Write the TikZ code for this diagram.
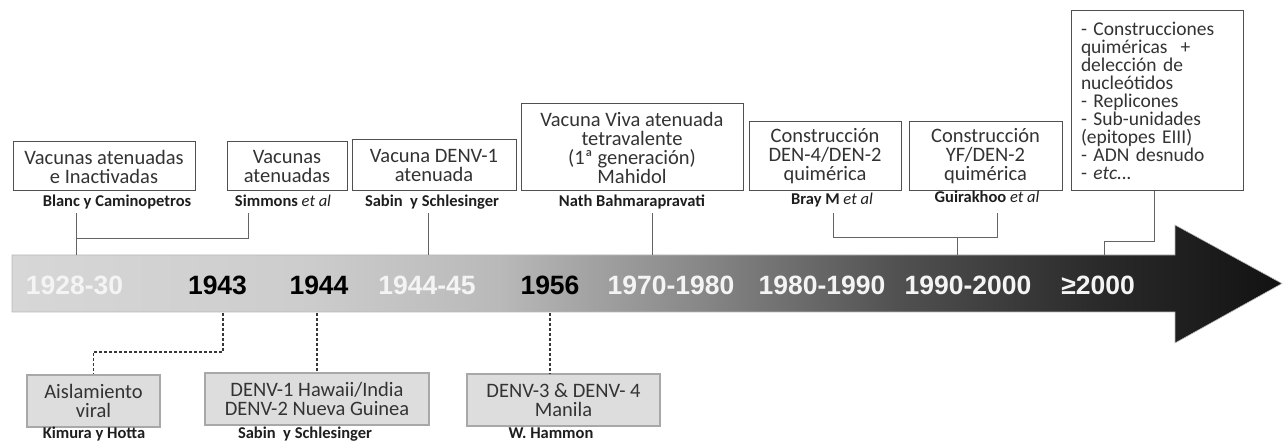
\documentclass[tikz,border=0pt]{standalone}
\usepackage{fontspec}
\setmainfont{Carlito}
\newfontfamily\yearfamily{Liberation Sans}
\definecolor{boxtext}{HTML}{333333}
\definecolor{lbltext}{HTML}{1E1E1E}
\definecolor{yrwhite}{HTML}{F4F4F4}
\definecolor{ga}{RGB}{215,215,215}
\definecolor{gb}{RGB}{205,205,205}
\definecolor{gc}{RGB}{185,185,185}
\definecolor{gd}{RGB}{135,135,135}
\definecolor{ge}{RGB}{80,80,80}
\definecolor{gf}{RGB}{42,42,42}
\definecolor{gg}{RGB}{18,18,18}
\pgfdeclarehorizontalshading{bargrad}{100bp}{color(0bp)=(ga); color(25bp)=(ga); color(36.3bp)=(gb); color(44.2bp)=(gc); color(52.1bp)=(gd); color(60bp)=(ge); color(67.8bp)=(gf); color(75bp)=(gg); color(100bp)=(gg)}
\newcommand\bxfnt{\fontsize{20.5}{19}\selectfont}
\newcommand\lbfnt{\fontsize{16.5}{18}\selectfont\bfseries}
\newcommand\yrfnt{\yearfamily\fontsize{26.5}{28}\selectfont\bfseries}
\begin{document}
\begin{tikzpicture}[x=1pt,y=-1pt,
  topbox/.style={draw={rgb,255:red,80;green,80;blue,80}, line width=1pt, fill=white, text=boxtext, align=center, inner sep=0pt, font=\bxfnt},
  botbox/.style={draw={rgb,255:red,168;green,168;blue,168}, line width=1.6pt, fill={rgb,255:red,221;green,221;blue,221}, text=boxtext, align=center, inner sep=0pt, font=\bxfnt},
  lbl/.style={anchor=base, font=\lbfnt, text=lbltext, inner sep=0pt},
  yr/.style={anchor=base, font=\yrfnt, inner sep=0pt},
  conn/.style={draw={rgb,255:red,100;green,100;blue,100}, line width=0.9pt},
  dconn/.style={draw={rgb,255:red,55;green,55;blue,55}, line width=1.2pt, dash pattern=on 3pt off 2pt}]
\useasboundingbox (0,0) rectangle (1283,443);
% arrow
\shade[shading=bargrad, draw={rgb,255:red,185;green,185;blue,185}, line width=0.6pt]
  (12,255) -- (1175,255) -- (1175,225) -- (1282,283.5) -- (1175,343) -- (1175,312) -- (12,312) -- cycle;
% years
\node[yr, text=yrwhite] (y1) at (74.5,295) {1928-30};
\node[yr, text=black] (y2) at (217.5,295) {1943};
\node[yr, text=black] (y3) at (319,295) {1944};
\node[yr, text=yrwhite] (y4) at (427,295) {1944-45};
\node[yr, text=black] (y5) at (550,295) {1956};
\node[yr, text=yrwhite] (y6) at (671,295) {1970-1980};
\node[yr, text=yrwhite] (y7) at (822,295) {1980-1990};
\node[yr, text=yrwhite] (y8) at (968,295) {1990-2000};
\node[yr, text=yrwhite] (y9) at (1098,295) {≥2000};
% top boxes
\node[topbox, minimum width=182, minimum height=49] (b1) at (104,166.5) {Vacunas atenuadas\\e Inactivadas};
\node[topbox, minimum width=120, minimum height=49] (b2) at (287,166.5) {Vacunas\\atenuadas};
\node[topbox, minimum width=164, minimum height=51] (b3) at (434,165.5) {Vacuna DENV-1\\atenuada};
\node[topbox, minimum width=222, minimum height=87] (b4) at (632,147.5) {Vacuna Viva atenuada\\tetravalente\\(1ª generación)\\Mahidol};
\node[topbox, minimum width=152, minimum height=69] (b5) at (825,156.5) {Construcción\\DEN-4/DEN-2\\quimérica};
\node[topbox, minimum width=153, minimum height=69] (b6) at (985.5,156.5) {Construcción\\YF/DEN-2\\quimérica};
\node[topbox, align=left, inner xsep=10pt, text width=152, minimum height=180, font=\fontsize{19.5}{18}\selectfont] (b7) at (1157,101) {- Construcciones\\quiméricas \ +\\delección de\\nucleótidos\\- Replicones\\- Sub-unidades\\(epitopes EIII)\\- ADN desnudo\\- \textit{etc...}};
% top labels
\node[lbl] (l1) at (117,207) {Blanc y Caminopetros};
\node[lbl] (l2) at (283,207) {Simmons \textmd{\textit{et al}}};
\node[lbl] (l3) at (432,207) {Sabin\ \ y Schlesinger};
\node[lbl] (l4) at (632,207) {Nath Bahmarapravati};
\node[lbl] (l5) at (832,205) {Bray M \textmd{\textit{et al}}};
\node[lbl] (l6) at (987,203) {Guirakhoo \textmd{\textit{et al}}};
% top connectors
\coordinate (p1) at (76,213); \coordinate (j1) at (76,238); \coordinate (q1) at (76,255);
\coordinate (p2) at (248,213);
\draw[conn] (p1) -- (q1);
\draw[conn] (p2) |- (j1);
\coordinate (p3) at (428,213); \coordinate (q3) at (428,255);
\draw[conn] (p3) -- (q3);
\coordinate (p4) at (652,213); \coordinate (q4) at (652,255);
\draw[conn] (p4) -- (q4);
\coordinate (p5) at (833,213); \coordinate (j5) at (833,237); \coordinate (p6) at (997,213);
\coordinate (j56) at (957,237); \coordinate (q56) at (957,255);
\draw[conn] (p5) -- (j5) -| (p6);
\draw[conn] (j56) -- (q56);
\coordinate (p7) at (1154,191); \coordinate (j7) at (1154,241); \coordinate (q7) at (1104,255);
\draw[conn] (p7) -- (j7) -| (q7);
% bottom boxes
\node[botbox, minimum width=133, minimum height=52] (a1) at (93.5,401) {Aislamiento\\viral};
\node[botbox, minimum width=224, minimum height=52] (a2) at (317,399) {DENV-1 Hawaii/India\\DENV-2 Nueva Guinea};
\node[botbox, minimum width=193, minimum height=52] (a3) at (563.5,400) {DENV-3 \& DENV- 4\\Manila};
% bottom labels
\node[lbl] (k1) at (94,439) {Kimura y Hotta};
\node[lbl] (k2) at (305,439) {Sabin\ \ y Schlesinger};
\node[lbl] (k3) at (551,438.5) {W. Hammon};
% dashed connectors
\coordinate (d1) at (223,313); \coordinate (m1) at (223,352);
\draw[dconn] (d1) -- (m1) -| (a1.north);
\coordinate (d2) at (317,313);
\draw[dconn] (d2) -- (a2.north);
\coordinate (d3) at (550,313);
\draw[dconn] (d3) -- (d3 |- a3.north);
\end{tikzpicture}
\end{document}
